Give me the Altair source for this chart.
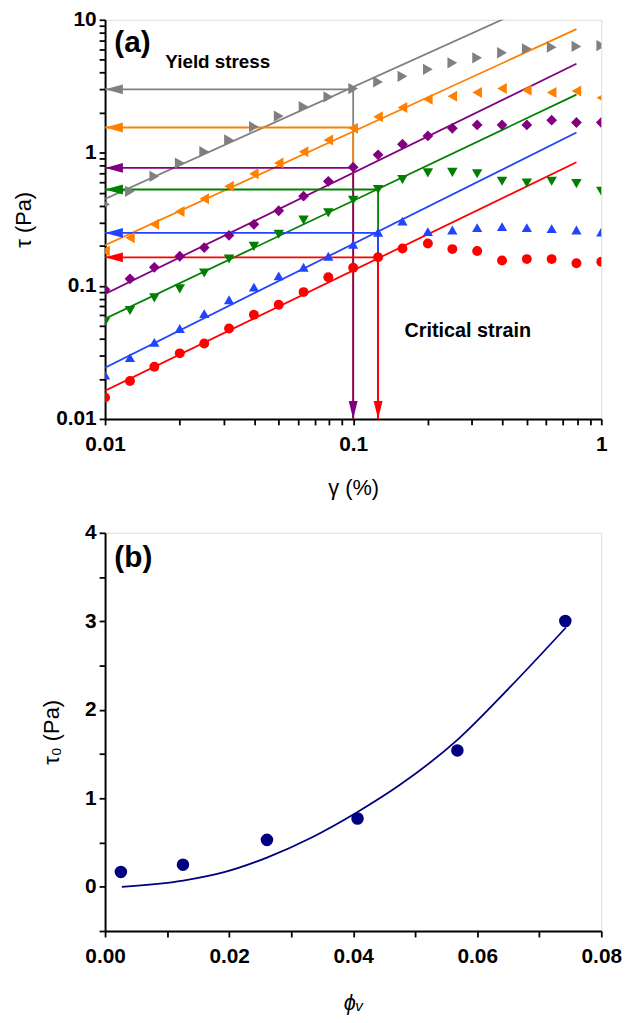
import altair as alt
import pandas as pd

FONT = "Liberation Sans, Arial, DejaVu Sans"

# ---------------- Panel (a) data ----------------
gamma = [0.01, 0.0126, 0.0158, 0.02, 0.0251, 0.0316, 0.0398, 0.0501, 0.0631, 0.0794,
         0.1, 0.126, 0.158, 0.2, 0.251, 0.316, 0.398, 0.501, 0.631, 0.794, 1.0]
tau_red = [0.0145, 0.0193, 0.0247, 0.0311, 0.0369, 0.0478, 0.0607, 0.0721, 0.0898, 0.116,
           0.137, 0.164, 0.191, 0.208, 0.189, 0.183, 0.155, 0.159, 0.159, 0.148, 0.152]
tau_blue = [0.0214, 0.0289, 0.0376, 0.0478, 0.0618, 0.0787, 0.098, 0.119, 0.138, 0.167,
            0.205, 0.253, 0.307, 0.256, 0.263, 0.274, 0.279, 0.274, 0.269, 0.263, 0.254]
tau_green = [0.0536, 0.0654, 0.0813, 0.095, 0.125, 0.159, 0.198, 0.244, 0.312, 0.355,
             0.44, 0.53, 0.63, 0.707, 0.713, 0.697, 0.611, 0.594, 0.611, 0.587, 0.514]
tau_purple = [0.0938, 0.113, 0.138, 0.167, 0.194, 0.24, 0.29, 0.367, 0.472, 0.611,
              0.78, 0.967, 1.16, 1.34, 1.53, 1.62, 1.62, 1.62, 1.76, 1.69, 1.69]
tau_orange = [0.183, 0.23, 0.29, 0.362, 0.451, 0.56, 0.697, 0.837, 1.02, 1.25,
              1.53, 1.87, 2.19, 2.53, 2.66, 2.84, 3.04, 2.95, 2.84, 2.92, 2.59]
tau_gray = [0.41, 0.514, 0.666, 0.837, 1.02, 1.25, 1.57, 1.89, 2.22, 2.63,
            3.04, 3.41, 3.76, 4.24, 4.75, 5.18, 5.65, 6.05, 6.22, 6.3, 6.4]

series = ["red", "blue", "green", "purple", "orange", "gray"]
colors = ["#ff0000", "#2244ff", "#008000", "#800080", "#ff8000", "#808080"]
shapes = ["circle", "triangle-up", "triangle-down", "diamond", "triangle-left", "triangle-right"]
sizes = [100, 130, 130, 130, 140, 140]
tau_all = [tau_red, tau_blue, tau_green, tau_purple, tau_orange, tau_gray]

# fitted straight lines (log-log): start and end points
fit_x0 = [0.01, 0.01, 0.01, 0.01, 0.01, 0.01]
fit_y0 = [0.0163, 0.0243, 0.0567, 0.0871, 0.202, 0.45]
fit_x1 = [0.794, 0.794, 0.794, 0.794, 0.794, 0.794]
fit_y1 = [0.85, 1.42, 2.74, 4.67, 8.5, 17.9]

# yield stress levels and critical strains (drawing order: gray first, red last)
arrow_series = ["gray", "orange", "purple", "green", "blue", "red"]
yield_stress = [3.0, 1.55, 0.77, 0.53, 0.25, 0.164]
crit_strain = [0.1, 0.1, 0.1, 0.126, 0.126, 0.126]
down_series = ["purple", "red"]
down_x = [0.1, 0.126]

ann_text = ["(a)", "Yield stress", "Critical strain"]
ann_x = [0.0109, 0.0175, 0.161]
ann_y = [6.7, 4.78, 0.0454]
ann_size = [30, 19, 20]

xa_ticks = [0.01, 0.02, 0.03, 0.04, 0.05, 0.06, 0.07, 0.08, 0.09,
            0.1, 0.2, 0.3, 0.4, 0.5, 0.6, 0.7, 0.8, 0.9, 1]
ya_ticks = [0.01, 0.02, 0.03, 0.04, 0.05, 0.06, 0.07, 0.08, 0.09,
            0.1, 0.2, 0.3, 0.4, 0.5, 0.6, 0.7, 0.8, 0.9,
            1, 2, 3, 4, 5, 6, 7, 8, 9, 10]

# ---------------- Panel (b) data ----------------
phi = [0.00255, 0.01256, 0.0261, 0.0407, 0.0568, 0.0742]
tau0 = [0.168, 0.25, 0.53, 0.772, 1.541, 3.004]
fit_phi = [0.0027, 0.0126, 0.0192, 0.0261, 0.0334, 0.0407, 0.0476, 0.0568, 0.0652, 0.0743]
fit_tau0 = [0.0, 0.07, 0.165, 0.33, 0.56, 0.845, 1.155, 1.66, 2.25, 2.93]
xb_ticks = [0, 0.01, 0.02, 0.03, 0.04, 0.05, 0.06, 0.07, 0.08]
yb_ticks = [-0.5, 0, 0.5, 1, 1.5, 2, 2.5, 3, 3.5, 4]

# ---------------- tables ----------------
pts = pd.DataFrame([
    {"s": s, "x": g, "y": v}
    for s, vals in zip(series, tau_all) for g, v in zip(gamma, vals)
])
fits = pd.DataFrame(
    [{"s": s, "x": a, "y": b} for s, a, b in zip(series, fit_x0, fit_y0)] +
    [{"s": s, "x": a, "y": b} for s, a, b in zip(series, fit_x1, fit_y1)]
)
hrules = pd.DataFrame({"s": arrow_series, "x": [0.01] * 6, "x2": crit_strain, "y": yield_stress,
                       "o": list(range(6))})
vrules = pd.DataFrame({"s": arrow_series, "x": crit_strain, "y": yield_stress, "y2": [0.01] * 6,
                       "o": list(range(6))})
lheads = pd.DataFrame({"s": arrow_series, "x": [0.01] * 6, "y": yield_stress})
dheads = pd.DataFrame({"s": down_series, "x": down_x, "y": [0.01, 0.01]})
ann = pd.DataFrame({"t": ann_text, "x": ann_x, "y": ann_y, "fs": ann_size})

color_scale = alt.Scale(domain=series, range=colors)
shape_scale = alt.Scale(domain=series, range=shapes)
size_scale = alt.Scale(domain=series, range=sizes)

lab_font = dict(labelFont=FONT, labelFontWeight="bold", labelFontSize=21, labelColor="black",
                titleFont=FONT, titleFontWeight="normal", titleFontSize=22, titleColor="black",
                domainColor="black", domainWidth=2, tickColor="black", tickWidth=1.8, tickSize=6,
                ticks=True, grid=False, labelOverlap=False, labelFlush=False)


def xa():
    return alt.X("x:Q", scale=alt.Scale(type="log", domain=[0.01, 1], nice=False),
                 axis=alt.Axis(values=xa_ticks, title="γ (%)",
                               labelExpr="datum.value == 0.01 ? '0.01' : datum.value == 0.1 ? '0.1' : datum.value == 1 ? '1' : ''",
                               labelPadding=9, titleY=69, titleBaseline="middle", **lab_font))


def ya():
    return alt.Y("y:Q", scale=alt.Scale(type="log", domain=[0.01, 10], nice=False),
                 axis=alt.Axis(values=ya_ticks, title="τ (Pa)",
                               labelExpr="datum.value == 0.01 ? '0.01' : datum.value == 0.1 ? '0.1' : datum.value == 1 ? '1' : datum.value == 10 ? '10' : ''",
                               labelPadding=3, titleX=-82, titleBaseline="middle", **lab_font))


col = alt.Color("s:N", scale=color_scale, legend=None)

fit_layer = alt.Chart(fits).mark_line(clip=True, strokeWidth=1.8).encode(
    x=xa(), y=ya(), color=col, detail="s:N")
h_layer = alt.Chart(hrules).mark_rule(strokeWidth=1.8).encode(
    x=xa(), x2="x2:Q", y=ya(), color=col, order="o:Q")
v_layer = alt.Chart(vrules).mark_rule(strokeWidth=1.8).encode(
    x=xa(), y=ya(), y2="y2:Q", color=col, order="o:Q")
lh_layer = alt.Chart(lheads).mark_point(
    shape="M -1 0 L 1 -0.55 L 1 0.55 Z", filled=True, opacity=1, size=324, xOffset=9
).encode(x=xa(), y=ya(), color=col)
dh_layer = alt.Chart(dheads).mark_point(
    shape="M 0 1 L -0.5 -1 L 0.5 -1 Z", filled=True, opacity=1, size=324, yOffset=-9
).encode(x=xa(), y=ya(), color=col)
pt_layer = alt.Chart(pts).mark_point(filled=True, opacity=1, clip=True).encode(
    x=xa(), y=ya(), color=col,
    shape=alt.Shape("s:N", scale=shape_scale, legend=None),
    size=alt.Size("s:N", scale=size_scale, legend=None))
ann_layers = [
    alt.Chart(ann[ann.t == t]).mark_text(align="left", baseline="middle", fontWeight="bold",
                                          font=FONT, fontSize=int(fs), color="black").encode(
        x=xa(), y=ya(), text="t:N")
    for t, fs in zip(ann_text, ann_size)
]

panel_a = alt.layer(fit_layer, v_layer, h_layer, pt_layer, lh_layer, dh_layer, *ann_layers).properties(
    width=501, height=403)

# ---------------- Panel (b) ----------------
ptsb = pd.DataFrame({"x": phi, "y": tau0})
fitb = pd.DataFrame({"x": fit_phi, "y": fit_tau0})
labb = pd.DataFrame({"t": ["(b)"], "x": [0.0015], "y": [3.71]})


def xb():
    return alt.X("x:Q", scale=alt.Scale(domain=[0, 0.08], nice=False, zero=False),
                 axis=alt.Axis(values=xb_ticks, title="ϕᵥ", titleFontStyle="italic",
                               labelExpr="round(datum.value*100) % 2 == 0 ? format(datum.value, '.2f') : ''",
                               labelPadding=9, titleY=72, titleBaseline="middle", **lab_font))


def yb():
    return alt.Y("y:Q", scale=alt.Scale(domain=[-0.5, 4], nice=False, zero=False),
                 axis=alt.Axis(values=yb_ticks, title="τ₀ (Pa)",
                               labelExpr="datum.value % 1 == 0 ? format(datum.value, 'd') : ''",
                               labelPadding=3, titleX=-54, titleBaseline="middle", **lab_font))


fitb_layer = alt.Chart(fitb).mark_line(color="#000080", strokeWidth=1.8, interpolate="monotone").encode(
    x=xb(), y=yb())
ptsb_layer = alt.Chart(ptsb).mark_point(filled=True, opacity=1, size=160, shape="circle",
                                        color="#000080").encode(x=xb(), y=yb())
labb_layer = alt.Chart(labb).mark_text(align="left", baseline="middle", fontWeight="bold",
                                       font=FONT, fontSize=30, color="black").encode(
    x=xb(), y=yb(), text="t:N")

panel_b = alt.layer(fitb_layer, ptsb_layer, labb_layer).properties(width=501, height=402)

chart = alt.vconcat(panel_a, panel_b, spacing=115, bounds="flush").properties(
    padding={"left": 4, "top": -5, "right": 10, "bottom": 5}
).configure_view(stroke="black", strokeWidth=2).configure(background="white")

chart.save("out.html", embed_options={"renderer": "svg", "actions": False})
